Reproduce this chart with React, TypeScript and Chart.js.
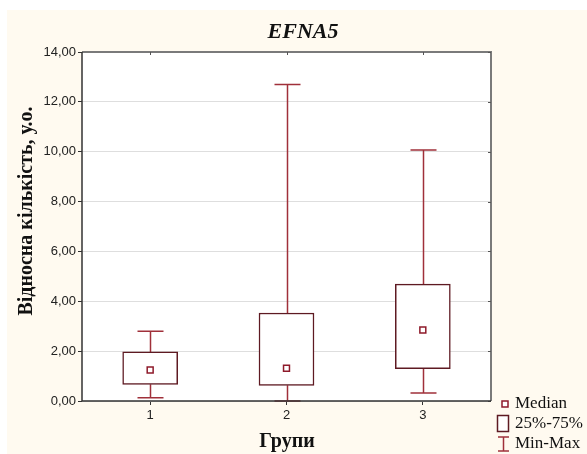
import React, { useEffect, useRef } from "react";
import { Chart, registerables } from "chart.js";

Chart.register(...registerables);

const groups = ["1", "2", "3"];
const minVals = [0.13, 0.0, 0.32];
const q1Vals = [0.67, 0.63, 1.3];
const medianVals = [1.24, 1.31, 2.85];
const q3Vals = [1.97, 3.53, 4.69];
const maxVals = [2.8, 12.7, 10.07];

const titleText = "EFNA5";
const yTitle = "Відносна кількість, у.о.";
const xTitle = "Групи";
const legendLabels = ["Median", "25%-75%", "Min-Max"];

const BOX_COLOR = "#5e1a22";
const WHISKER_COLOR = "#a0303a";
const MEDIAN_COLOR = "#8e1a2a";

const decoPlugin = {
  id: "deco",
  beforeDraw(chart: any) {
    const { ctx, chartArea: a } = chart;
    ctx.save();
    ctx.fillStyle = "#ffffff";
    ctx.fillRect(0, 0, chart.width, chart.height);
    ctx.fillStyle = "#fffaf0";
    ctx.fillRect(7, 10, chart.width - 7, chart.height - 10);
    ctx.fillStyle = "#ffffff";
    ctx.fillRect(a.left, a.top, a.right - a.left, a.bottom - a.top);
    ctx.restore();
  },
  beforeDatasetsDraw(chart: any) {
    const { ctx } = chart;
    const xs = chart.scales.x;
    const ys = chart.scales.y;
    ctx.save();
    ctx.strokeStyle = WHISKER_COLOR;
    ctx.lineWidth = 1.5;
    groups.forEach((_, i) => {
      const x = Math.round(xs.getPixelForValue(i)) + 0.5;
      const yMin = ys.getPixelForValue(minVals[i]);
      const yMax = ys.getPixelForValue(maxVals[i]);
      const yQ1 = ys.getPixelForValue(q1Vals[i]);
      const yQ3 = ys.getPixelForValue(q3Vals[i]);
      ctx.beginPath();
      ctx.moveTo(x, yQ3);
      ctx.lineTo(x, yMax);
      ctx.moveTo(x - 13, yMax);
      ctx.lineTo(x + 13, yMax);
      ctx.moveTo(x, yQ1);
      ctx.lineTo(x, yMin);
      ctx.moveTo(x - 13, yMin);
      ctx.lineTo(x + 13, yMin);
      ctx.stroke();
    });
    ctx.restore();
  },
  afterDraw(chart: any) {
    const { ctx, chartArea: a } = chart;
    const xs = chart.scales.x;
    const ys = chart.scales.y;
    ctx.save();
    ctx.strokeStyle = "#7a7a7a";
    ctx.lineWidth = 2;
    ctx.beginPath();
    ctx.moveTo(a.left, a.top);
    ctx.lineTo(a.right, a.top);
    ctx.lineTo(a.right, a.bottom);
    ctx.stroke();
    ctx.lineWidth = 1;
    ctx.strokeStyle = "#555";
    ctx.beginPath();
    groups.forEach((_, i) => {
      const x = Math.round(xs.getPixelForValue(i)) + 0.5;
      ctx.moveTo(x, a.top);
      ctx.lineTo(x, a.top + 3);
    });
    ys.ticks.forEach((t: any) => {
      const y = Math.round(ys.getPixelForValue(t.value)) + 0.5;
      ctx.moveTo(a.right, y);
      ctx.lineTo(a.right - 3, y);
    });
    ctx.stroke();
    ctx.strokeStyle = "#333";
    ctx.lineWidth = 1.5;
    ctx.beginPath();
    ctx.moveTo(a.left, a.top);
    ctx.lineTo(a.left, a.bottom);
    ctx.lineTo(a.right, a.bottom);
    ctx.stroke();

    ctx.fillStyle = "#111";
    ctx.textAlign = "center";
    ctx.textBaseline = "middle";
    ctx.font = "italic bold 22px 'Liberation Serif'";
    ctx.fillText(titleText, 303, 32);
    ctx.font = "bold 20px 'Liberation Serif'";
    ctx.fillText(xTitle, 287, 442);
    ctx.save();
    ctx.translate(27, 211);
    ctx.rotate(-Math.PI / 2);
    ctx.fillText(yTitle, 0, 0);
    ctx.restore();

    ctx.font = "17px 'Liberation Serif'";
    ctx.textAlign = "left";
    ctx.fillStyle = "#fff";
    ctx.strokeStyle = MEDIAN_COLOR;
    ctx.lineWidth = 1.5;
    ctx.fillRect(502, 401, 6, 6);
    ctx.strokeRect(502, 401, 6, 6);
    ctx.fillStyle = "#111";
    ctx.fillText(legendLabels[0], 515, 404);
    ctx.fillStyle = "#fff";
    ctx.strokeStyle = BOX_COLOR;
    ctx.fillRect(497.5, 415.5, 11, 16);
    ctx.strokeRect(497.5, 415.5, 11, 16);
    ctx.fillStyle = "#111";
    ctx.fillText(legendLabels[1], 515, 424);
    ctx.strokeStyle = WHISKER_COLOR;
    ctx.beginPath();
    ctx.moveTo(503.5, 437);
    ctx.lineTo(503.5, 451);
    ctx.moveTo(498, 437);
    ctx.lineTo(509, 437);
    ctx.moveTo(498, 451);
    ctx.lineTo(509, 451);
    ctx.stroke();
    ctx.fillStyle = "#111";
    ctx.fillText(legendLabels[2], 515, 444);
    ctx.restore();
  },
};

export default function App() {
  const ref = useRef<HTMLCanvasElement | null>(null);
  useEffect(() => {
    if (!ref.current) return;
    const chart = new Chart(ref.current, {
      type: "bar",
      data: {
        labels: groups,
        datasets: [
          {
            type: "bar",
            label: "25%-75%",
            data: groups.map((_, i) => [q1Vals[i], q3Vals[i]]) as any,
            backgroundColor: "#ffffff",
            borderColor: BOX_COLOR,
            borderWidth: 1.5,
            borderSkipped: false,
            barThickness: 55,
            order: 2,
          } as any,
          {
            type: "line",
            label: "Median",
            data: medianVals,
            showLine: false,
            pointStyle: "rect",
            pointRadius: 4.2,
            pointBackgroundColor: "#ffffff",
            pointBorderColor: MEDIAN_COLOR,
            pointBorderWidth: 1.5,
            order: 1,
          } as any,
        ],
      },
      options: {
        responsive: false,
        animation: false,
        layout: { padding: { left: 0, top: 52, right: 96, bottom: 0 } },
        plugins: {
          legend: { display: false },
          tooltip: { enabled: false },
          title: { display: false },
        },
        scales: {
          x: {
            type: "category",
            offset: true,
            grid: {
              offset: false,
              drawOnChartArea: false,
              drawTicks: true,
              tickLength: 4,
              tickColor: "#333",
            },
            border: { display: false },
            ticks: {
              padding: 3,
              color: "#222",
              font: { family: "'Liberation Sans'", size: 13 },
            },
            afterFit: (s: any) => {
              s.height = 53;
            },
          },
          y: {
            min: 0,
            max: 14,
            grid: {
              color: "#dedede",
              lineWidth: 1,
              drawTicks: true,
              tickLength: 4,
              tickColor: "#333",
            },
            border: { display: false },
            ticks: {
              stepSize: 2,
              padding: 2,
              color: "#222",
              font: { family: "'Liberation Sans'", size: 13 },
              callback: (v: any) => Number(v).toFixed(2).replace(".", ","),
            },
            afterFit: (s: any) => {
              s.width = 82;
            },
          },
        },
      },
      plugins: [decoPlugin],
    });
    return () => chart.destroy();
  }, []);
  return (
    <div style={{ position: "fixed", left: 0, top: 0, width: 587, height: 454 }}>
      <canvas ref={ref} width={587} height={454} style={{ display: "block" }} />
    </div>
  );
}
